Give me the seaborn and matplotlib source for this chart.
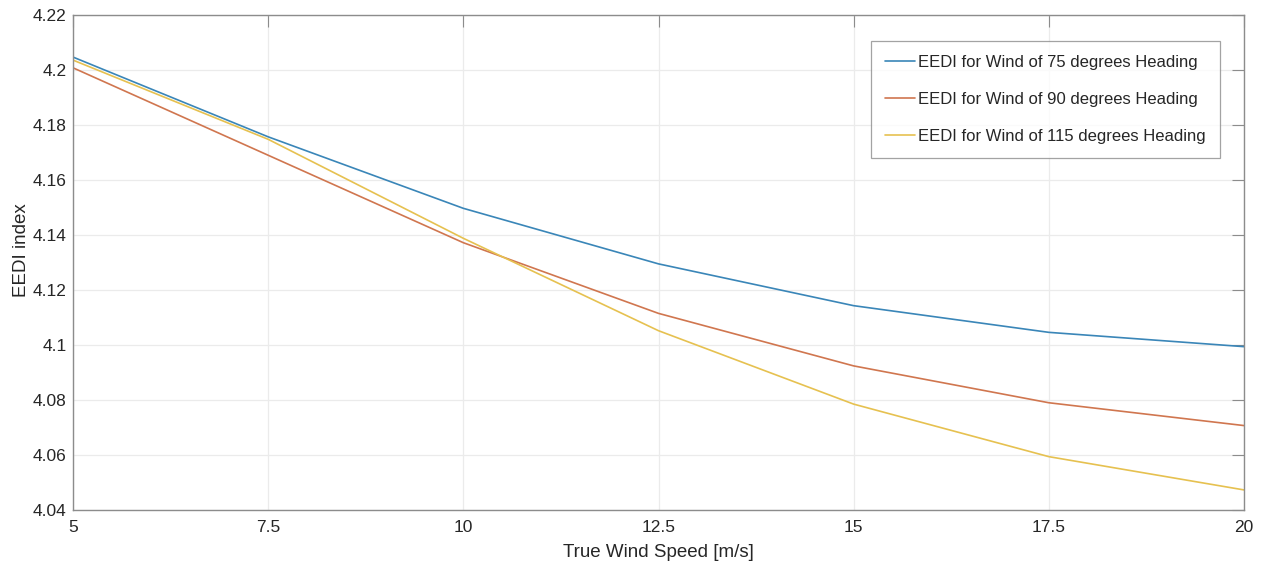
import numpy as np
import pandas as pd
import matplotlib
matplotlib.use("Agg")
import matplotlib.pyplot as plt
import seaborn as sns

wind_speed = [5, 7.5, 10, 12.5, 15, 17.5, 20]
eedi_75 = [4.2047, 4.1757, 4.1497, 4.1295, 4.1143, 4.1046, 4.0994]
eedi_90 = [4.2008, 4.1690, 4.1372, 4.1115, 4.0924, 4.0790, 4.0707]
eedi_115 = [4.2036, 4.1748, 4.1388, 4.1052, 4.0785, 4.0594, 4.0473]
series_names = ["EEDI for Wind of 75 degrees Heading",
                "EEDI for Wind of 90 degrees Heading",
                "EEDI for Wind of 115 degrees Heading"]
x_ticks = [5, 7.5, 10, 12.5, 15, 17.5, 20]
x_tick_labels = ["5", "7.5", "10", "12.5", "15", "17.5", "20"]
y_ticks = [4.04, 4.06, 4.08, 4.10, 4.12, 4.14, 4.16, 4.18, 4.20, 4.22]
y_tick_labels = ["4.04", "4.06", "4.08", "4.1", "4.12", "4.14", "4.16", "4.18", "4.2", "4.22"]

df = pd.concat([
    pd.DataFrame({"speed": wind_speed, "eedi": vals, "series": name})
    for vals, name in zip([eedi_75, eedi_90, eedi_115], series_names)
])

sns.set_style("white")
plt.rcParams['font.family'] = ['Liberation Sans', 'DejaVu Sans']

colors = ["#3a86b8", "#d0764f", "#e6c150"]

fig = plt.figure(figsize=(12.7, 5.63), dpi=100)
ax = fig.add_axes([73/1270, 1-510/563, (1244-73)/1270, (510-15)/563])

sns.lineplot(data=df, x="speed", y="eedi", hue="series", palette=colors,
             linewidth=1.2, ax=ax, sort=False, legend=True)

ax.set_xlim(5, 20)
ax.set_ylim(4.04, 4.22)
ax.set_xticks(x_ticks)
ax.set_xticklabels(x_tick_labels)
ax.set_yticks(y_ticks)
ax.set_yticklabels(y_tick_labels)
ax.grid(True, color="#ebebeb", linewidth=0.9)
ax.set_axisbelow(True)
for s in ax.spines.values():
    s.set_visible(True)
    s.set_color("#8c8c8c")
    s.set_linewidth(1.0)
ax.tick_params(direction="in", length=8.5, width=0.8, color="#8c8c8c",
               top=True, right=True, labelsize=12.5, labelcolor="#262626")
ax.tick_params(axis="x", pad=7.5)
ax.tick_params(axis="y", pad=4.5)
ax.set_xlabel("True Wind Speed [m/s]", fontsize=13.5, color="#262626", labelpad=6)
ax.set_ylabel("EEDI index", fontsize=13.5, color="#262626")
ax.yaxis.set_label_coords((30-73)/1171, (510-250)/495)

leg = ax.legend(loc="upper right", bbox_to_anchor=((1220-73)/1171, (510-41)/495),
                borderaxespad=0,
                fontsize=12, frameon=True, fancybox=False, edgecolor="#8c8c8c",
                handlelength=1.8, labelspacing=1.3, borderpad=0.85, handletextpad=0.2)
leg.get_frame().set_linewidth(0.9)
for t in leg.get_texts():
    t.set_color("#262626")

fig.savefig("out.png", dpi=100)
